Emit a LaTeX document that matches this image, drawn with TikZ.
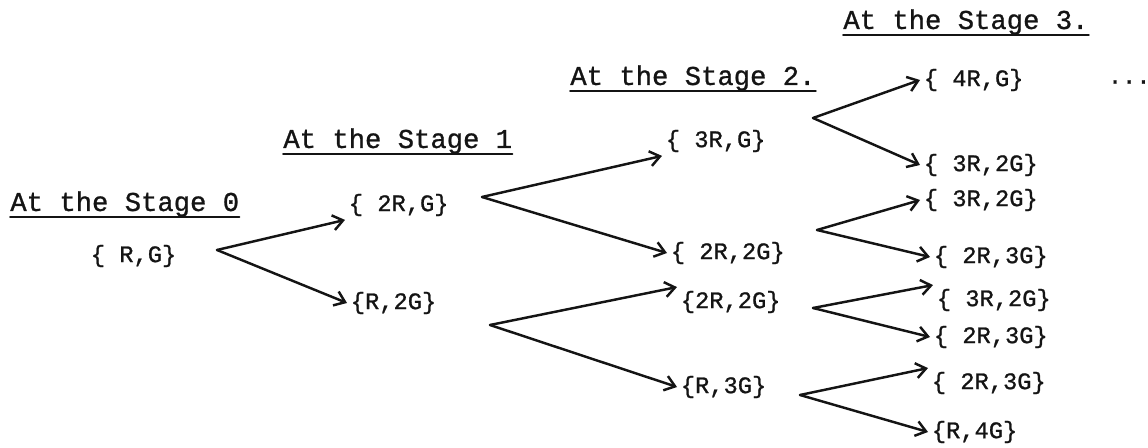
\documentclass[tikz,border=0pt]{standalone}
\usepackage{fontspec}
\setmonofont[FakeBold=1]{Liberation Mono}
\usetikzlibrary{arrows.meta}
\definecolor{inkcol}{RGB}{20,20,20}
\tikzset{
  stagehead/.style={inkcol, font=\ttfamily\fontsize{15.5}{18}\selectfont, inner sep=0pt, anchor=base west},
  urn/.style={inkcol, font=\ttfamily\fontsize{13.5}{16}\selectfont, inner sep=2pt, anchor=west},
  branch/.style={inkcol, line width=1.4pt, -{Straight Barb[length=2mm, width=3mm]}}
}

\begin{document}
\begin{tikzpicture}[x=0.02cm, y=-0.02cm, line cap=round]
  \useasboundingbox (0,0) rectangle (1148,448);

  % --- stage headings, underlined ----------------------------------------
  \node[stagehead] (Head0) at (10,211)  {At the Stage 0};
  \node[stagehead] (Head1) at (283,148) {At the Stage 1};
  \node[stagehead] (Head2) at (570,85)  {At the Stage 2.};
  \node[stagehead] (Head3) at (843,29)  {At the Stage 3.};
  \foreach \h in {Head0,Head1,Head2,Head3}
    \draw[inkcol, line width=1pt] (\h.south west) -- (\h.south east);

  % --- urn contents, stage by stage ---------------------------------------
  \node[urn] (Urn0)  at (87,256)  {\{ R,G\}};

  \node[urn] (Urn1a) at (345,205) {\{ 2R,G\}};
  \node[urn] (Urn1b) at (347,303) {\{R,2G\}};

  \node[urn] (Urn2a) at (662,141) {\{ 3R,G\}};
  \node[urn] (Urn2b) at (667,253) {\{ 2R,2G\}};
  \node[urn] (Urn2c) at (677,302) {\{2R,2G\}};
  \node[urn] (Urn2d) at (677,387) {\{R,3G\}};

  \node[urn] (Urn3a) at (920,80)  {\{ 4R,G\}};
  \node[urn] (Urn3b) at (920,165) {\{ 3R,2G\}};
  \node[urn] (Urn3c) at (920,200) {\{ 3R,2G\}};
  \node[urn] (Urn3d) at (930,257) {\{ 2R,3G\}};
  \node[urn] (Urn3e) at (933,300) {\{ 3R,2G\}};
  \node[urn] (Urn3f) at (930,337) {\{ 2R,3G\}};
  \node[urn] (Urn3g) at (928,383) {\{ 2R,3G\}};
  \node[urn] (Urn3h) at (928,432) {\{R,4G\}};
  \node[urn] (More)  at (1104,82) {...};

  % --- fork points, where each pair of branches starts --------------------
  \coordinate (Fork0)  at (217,250);
  \coordinate (Fork1a) at (482,197);
  \coordinate (Fork1b) at (490,325);
  \coordinate (Fork2a) at (813,118);
  \coordinate (Fork2b) at (817,230);
  \coordinate (Fork2c) at (813,308);
  \coordinate (Fork2d) at (800,395);

  % --- branches -----------------------------------------------------------
  \foreach \f/\t in {Fork0/Urn1a.south west, Fork0/Urn1b.west,
                     Fork1a/Urn2a.south west, Fork1a/Urn2b.west,
                     Fork1b/Urn2c.north west, Fork1b/Urn2d.west,
                     Fork2a/Urn3a.west, Fork2a/Urn3b.west,
                     Fork2b/Urn3c.west, Fork2b/Urn3d.west,
                     Fork2c/Urn3e.north west, Fork2c/Urn3f.west,
                     Fork2d/Urn3g.north west, Fork2d/Urn3h.west}
    \draw[branch] (\f) -- (\t);

\end{tikzpicture}
\end{document}
